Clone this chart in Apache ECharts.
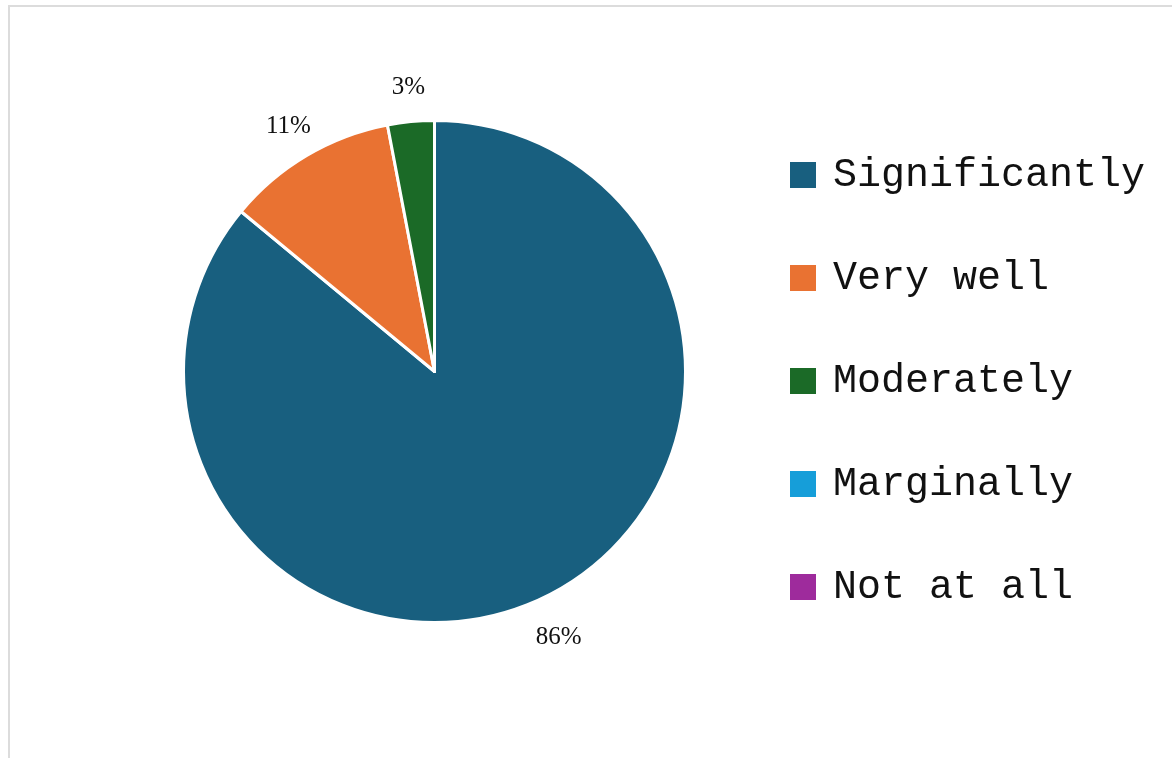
<!DOCTYPE html>
<html>
<head>
<meta charset="utf-8">
<script src="https://cdn.jsdelivr.net/npm/echarts@6/dist/echarts.min.js"></script>
<style>
html,body{margin:0;padding:0;background:#fff;}
#chart{width:1172px;height:758px;}
</style>
</head>
<body>
<div id="chart"></div>
<script>
const categories = ['Significantly', 'Very well', 'Moderately', 'Marginally', 'Not at all'];
const values = [86, 11, 3, 0, 0];
const colors = ['#185F7F', '#E97232', '#1B6A27', '#169ED9', '#9E2B9C'];

const data = categories.map((c, i) => ({ name: c, value: values[i] }));
const chart = echarts.init(document.getElementById('chart'));
chart.setOption({
  backgroundColor: '#fff',
  animation: false,
  color: colors,
  graphic: [{
    type: 'rect',
    shape: { x: 9, y: 6, width: 1200, height: 800 },
    style: { fill: 'none', stroke: '#dcdcdc', lineWidth: 2 },
    silent: true
  }],
  legend: {
    orient: 'vertical',
    left: 783,
    top: 150,
    data: categories,
    icon: 'rect',
    itemWidth: 28,
    itemHeight: 28,
    itemGap: 63,
    textStyle: {
      fontFamily: 'Liberation Mono',
      fontSize: 40,
      lineHeight: 40,
      color: '#111',
      padding: [0, 0, 0, 11]
    }
  },
  series: [{
    type: 'pie',
    center: [434.5, 371.5],
    radius: [0, 251],
    startAngle: 90,
    clockwise: true,
    data: data,
    itemStyle: { borderColor: '#fff', borderWidth: 3 },
    label: { show: false },
    labelLine: { show: false },
    emphasis: { disabled: true }
  }, {
    type: 'pie',
    center: [435.5, 375.5],
    radius: [280, 292],
    startAngle: 90,
    clockwise: true,
    data: data,
    silent: true,
    itemStyle: { color: 'rgba(0,0,0,0)' },
    label: {
      show: true,
      position: 'inside',
      fontFamily: 'Liberation Serif',
      fontSize: 25,
      color: '#111',
      formatter: p => p.value > 0 ? p.value + '%' : ''
    },
    labelLine: { show: false },
    emphasis: { disabled: true }
  }]
});
</script>
</body>
</html>
